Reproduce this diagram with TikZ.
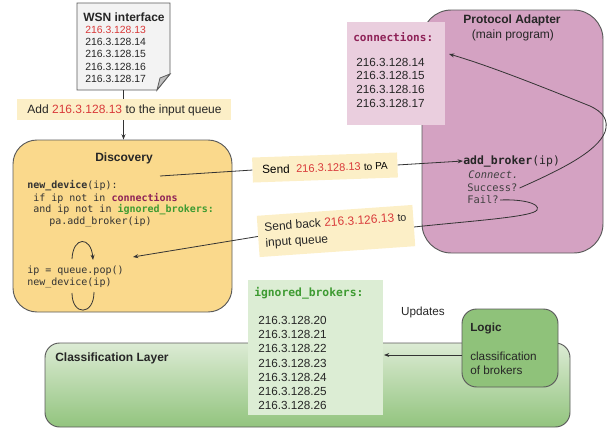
\documentclass[tikz,border=0pt]{standalone}
\usepackage{fontspec}
\setmainfont{Liberation Sans}
\setmonofont{DejaVu Sans Mono}
\usetikzlibrary{arrows.meta}
\definecolor{edge}{HTML}{5A5A5A}
\definecolor{discfill}{HTML}{FAD98C}
\definecolor{bandfill}{HTML}{FCEFC7}
\definecolor{pafill}{HTML}{D4A2C2}
\definecolor{connfill}{HTML}{EACEDE}
\definecolor{ignfill}{HTML}{DCEDD4}
\definecolor{logicfill}{HTML}{8FC27A}
\definecolor{cltop}{HTML}{DCEBD4}
\definecolor{clbot}{HTML}{92C47E}
\definecolor{ipred}{HTML}{D93A3A}
\definecolor{connc}{HTML}{8E2157}
\definecolor{ignc}{HTML}{3E9B32}
\definecolor{docfill}{HTML}{F3F3F3}
\begin{document}
\begin{tikzpicture}[x=0.75pt,y=-0.75pt,
  shapebox/.style={draw=edge,line width=0.7pt,inner sep=0pt},
  txt/.style={inner sep=0pt,anchor=west,font=\fontsize{9}{10}\selectfont,text=black!85},
  ctxt/.style={inner sep=0pt,font=\fontsize{9}{10}\selectfont,text=black!85},
  num/.style={inner sep=0pt,anchor=west,font=\fontsize{8.8}{10}\selectfont,text=black!85},
  code/.style={inner sep=0pt,anchor=west,font=\ttfamily\fontsize{7.5}{9}\selectfont,text=black!80},
  link/.style={draw=black!80,line width=0.6pt},
  arr/.style={link,-{Stealth[length=4pt,width=3pt]}},
  lbl/.style={fill=bandfill,inner sep=0pt},
]
\path[use as bounding box] (0,0) rectangle (608,432);

% ---------- Classification layer ----------
\node[shapebox,rounded corners=11pt,top color=cltop,bottom color=clbot,
      minimum width=393.75pt,minimum height=63pt] (clayer) at (307.5,385) {};
\node[txt,font=\bfseries\fontsize{9}{10}\selectfont] (cltitle) at (55,358) {Classification Layer};

% ---------- ignored brokers ----------
\node[fill=ignfill,inner sep=0pt,minimum width=101.25pt,minimum height=101.25pt] (ign) at (315.5,347.5) {};
\node[code,font=\ttfamily\bfseries\fontsize{8.5}{9}\selectfont,text=ignc] (igntitle) at (254,293) {ignored\_brokers:};
\node[num] (i1) at (258,320) {216.3.128.20};
\node[num] (i2) at (258,334) {216.3.128.21};
\node[num] (i3) at (258,348) {216.3.128.22};
\node[num] (i4) at (258,363) {216.3.128.23};
\node[num] (i5) at (258,377) {216.3.128.24};
\node[num] (i6) at (258,391) {216.3.128.25};
\node[num] (i7) at (258,405) {216.3.128.26};

% ---------- Logic ----------
\node[shapebox,rounded corners=11pt,fill=logicfill,minimum width=72pt,minimum height=58.5pt] (logic) at (510,348) {};
\node[txt,font=\bfseries\fontsize{8.8}{10}\selectfont] (logict) at (470,328) {Logic};
\node[txt,font=\fontsize{8.8}{10}\selectfont] (logic1) at (470,356) {classification};
\node[txt,font=\fontsize{8.8}{10}\selectfont] (logic2) at (470,370) {of brokers};
\node[ctxt,font=\fontsize{8.8}{10}\selectfont] (updates) at (423,312) {Updates};
\coordinate (logicout) at (462,355);
\coordinate (ignin) at (384,355);
\draw[arr] (logicout) -- (ignin);

% ---------- Protocol Adapter ----------
\node[shapebox,rounded corners=22pt,fill=pafill,minimum width=135.75pt,minimum height=182.25pt] (pa) at (512.5,131.5) {};
\node[ctxt,font=\bfseries\fontsize{9}{10}\selectfont] (patitle) at (512,20) {Protocol Adapter};
\node[ctxt] (pasub) at (513,35) {(main program)};
\node[fill=connfill,inner sep=0pt,minimum width=73.5pt,minimum height=77.25pt] (conn) at (396,73.5) {};
\node[code,font=\ttfamily\bfseries\fontsize{8.3}{9}\selectfont,text=connc] (conntitle) at (353,37) {connections:};
\node[num] (c1) at (356,62) {216.3.128.14};
\node[num] (c2) at (356,75) {216.3.128.15};
\node[num] (c3) at (356,89) {216.3.128.16};
\node[num] (c4) at (356,103) {216.3.128.17};
\node[code,font=\ttfamily\fontsize{8.6}{10}\selectfont,text=black!85] (addb) at (463,161) {\textbf{add\_broker}(ip)};
\node[code,font=\ttfamily\itshape\fontsize{7.8}{9}\selectfont,text=black!75] (connect) at (468,175) {Connect.};
\node[code,font=\ttfamily\fontsize{7.8}{9}\selectfont,text=black!75] (succ) at (467,188) {Success?};
\node[code,font=\ttfamily\fontsize{7.8}{9}\selectfont,text=black!75] (fail) at (467,200) {Fail?};
\coordinate (connin) at (449,54);
\draw[arr] ([xshift=1.5pt]succ.east) .. controls (560,170) and (597,152) .. (605,132)
  .. controls (609,120) and (603,112) .. (590,106)
  .. controls (540,86) and (490,66) .. (connin);

% ---------- WSN interface ----------
\draw[draw=edge,line width=0.7pt,fill=docfill] (77,3) -- (170,3) -- (170,74) -- (157,90) -- (77,90) -- cycle;
\draw[draw=edge,line width=0.6pt,fill=black!25] (157,90) -- (160,78) -- (170,74) -- cycle;
\node[inner sep=0pt,minimum width=69.75pt,minimum height=65.25pt] (wsn) at (123.5,46.5) {};
\node[txt,font=\bfseries\fontsize{9}{10}\selectfont] (wsnt) at (83,17) {WSN interface};
\node[num,font=\fontsize{7.8}{9}\selectfont,text=ipred] (w1) at (85,30) {216.3.128.13};
\node[num,font=\fontsize{7.8}{9}\selectfont] (w2) at (85,42) {216.3.128.14};
\node[num,font=\fontsize{7.8}{9}\selectfont] (w3) at (85,54) {216.3.128.15};
\node[num,font=\fontsize{7.8}{9}\selectfont] (w4) at (85,67) {216.3.128.16};
\node[num,font=\fontsize{7.8}{9}\selectfont] (w5) at (85,79) {216.3.128.17};

% ---------- Discovery ----------
\node[shapebox,rounded corners=18pt,fill=discfill,minimum width=164.25pt,minimum height=129pt] (disc) at (122.5,226) {};
\node[ctxt,font=\bfseries\fontsize{9}{10}\selectfont] (disct) at (124,158) {Discovery};
\node[code] (d1) at (27,186) {\textbf{new\_device}(ip):};
\node[code] (d2) at (33,198) {if ip not in \textcolor{connc}{\textbf{connections}}};
\node[code] (d3) at (33,210) {and ip not in \textcolor{ignc}{\textbf{ignored\_brokers:}}};
\node[code] (d4) at (49,222) {pa.add\_broker(ip)};
\node[code] (d5) at (27,271) {ip = queue.pop()};
\node[code] (d6) at (27,283) {new\_device(ip)};
\coordinate (arcA) at (72,259);
\coordinate (arcB) at (93,260);
\draw[arr] (arcA) .. controls (73,236) and (91,236) .. (arcB);
\coordinate (arcC) at (72,293);
\coordinate (arcD) at (94,292);
\draw[link] (arcC) .. controls (72,316) and (94,316) .. (arcD);

% ---------- Add band ----------
\node[lbl,minimum width=160.5pt,minimum height=15.75pt] (band) at (123.5,109.5) {};
\node[ctxt] (bandt) at (124.5,110) {Add \textcolor{ipred}{216.3.128.13} to the input queue};
\draw[link] (wsn.south) -- (band.north);
\draw[arr] (band.south) -- (band.south |- disc.north);

% ---------- Send label ----------
\coordinate (dsrc) at (160,176);
\coordinate (dtgt) at (133,257);
\node[lbl,rotate=2,minimum width=108.75pt,minimum height=18.75pt] (send) at (325,167.5)
  {\fontsize{8.8}{10}\selectfont Send\ \ \textcolor{ipred}{\fontsize{8.3}{10}\selectfont 216.3.128.13} {\fontsize{7.5}{10}\selectfont to PA}};
\draw[link] (dsrc) -- (send.west);
\draw[arr] (send.east) -- (addb.west);

% ---------- Send back label ----------
\draw[link] ([xshift=1pt]fail.east) .. controls (520,199) and (541,203) .. (537,210)
  .. controls (533,217) and (470,221) .. (414,227);
\node[lbl,rotate=4,minimum width=117pt,minimum height=31pt,align=left,text=black!85] (sendback) at (336,231)
  {\fontsize{9}{12}\selectfont Send back \textcolor{ipred}{216.3.126.13} {\fontsize{8}{12}\selectfont to}\\
   \fontsize{9}{12}\selectfont input queue\hspace*{6.5em}};
\draw[arr] (sendback.west) -- (dtgt);
\end{tikzpicture}
\end{document}
